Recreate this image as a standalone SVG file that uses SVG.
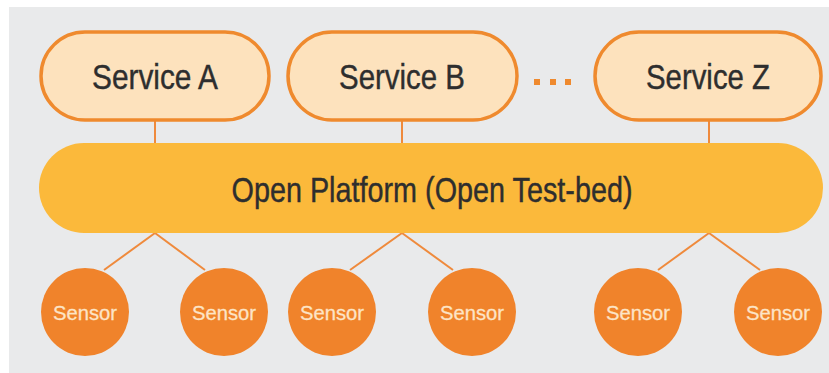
<svg xmlns="http://www.w3.org/2000/svg" width="829" height="373" viewBox="0 0 829 373">
<style>
.svc{fill:#fde2bd;stroke:#ef8a2e;stroke-width:3.5}
.svct{font-family:"Liberation Sans Narrow","Liberation Sans",Arial,sans-serif;font-size:35px;fill:#2e2e2e;stroke:#2e2e2e;stroke-width:0.4;text-anchor:middle}
.plat{fill:#fbb93b}
.sen{fill:#f0832b}
.sent{font-family:"Liberation Sans Narrow","Liberation Sans",Arial,sans-serif;font-size:21px;fill:#fde4c6;stroke:#fde4c6;stroke-width:0.3;text-anchor:middle}
.con line{stroke:#ef8a3c;stroke-width:2}
</style>
<rect x="9" y="7" width="820" height="366" fill="#e9eaeb"/>
<g class="con">
<line x1="155" y1="121" x2="155" y2="145"/>
<line x1="402" y1="121" x2="402" y2="145"/>
<line x1="709" y1="121" x2="709" y2="145"/>
<line x1="155" y1="233" x2="104" y2="270"/>
<line x1="155" y1="233" x2="205" y2="270"/>
<line x1="402" y1="233" x2="350" y2="270"/>
<line x1="402" y1="233" x2="453" y2="270"/>
<line x1="709" y1="233" x2="658" y2="270"/>
<line x1="709" y1="233" x2="760" y2="270"/>
</g>
<g id="serviceA"><rect class="svc" x="41" y="32" width="228" height="88" rx="44"/><text class="svct" x="155" y="89" textLength="126" lengthAdjust="spacingAndGlyphs">Service A</text></g>
<g id="serviceB"><rect class="svc" x="288" y="32" width="229" height="88" rx="44"/><text class="svct" x="402" y="89" textLength="126" lengthAdjust="spacingAndGlyphs">Service B</text></g>
<g id="dots" fill="#ef8a2e"><rect x="534" y="79" width="6" height="6"/><rect x="550" y="79" width="6" height="6"/><rect x="565" y="79" width="6" height="6"/></g>
<g id="serviceZ"><rect class="svc" x="595" y="32" width="226" height="88" rx="44"/><text class="svct" x="708" y="89" textLength="124" lengthAdjust="spacingAndGlyphs">Service Z</text></g>
<g id="platform"><rect class="plat" x="39" y="143" width="784" height="90" rx="45"/><text class="svct" x="432" y="202" textLength="401" lengthAdjust="spacingAndGlyphs">Open Platform (Open Test-bed)</text></g>
<g id="sensor1"><circle class="sen" cx="85" cy="312" r="44"/><text class="sent" x="85" y="320" textLength="64" lengthAdjust="spacingAndGlyphs">Sensor</text></g>
<g id="sensor2"><circle class="sen" cx="224" cy="312" r="44"/><text class="sent" x="224" y="320" textLength="64" lengthAdjust="spacingAndGlyphs">Sensor</text></g>
<g id="sensor3"><circle class="sen" cx="332" cy="312" r="44"/><text class="sent" x="332" y="320" textLength="64" lengthAdjust="spacingAndGlyphs">Sensor</text></g>
<g id="sensor4"><circle class="sen" cx="472" cy="312" r="44"/><text class="sent" x="472" y="320" textLength="64" lengthAdjust="spacingAndGlyphs">Sensor</text></g>
<g id="sensor5"><circle class="sen" cx="638" cy="312" r="44"/><text class="sent" x="638" y="320" textLength="64" lengthAdjust="spacingAndGlyphs">Sensor</text></g>
<g id="sensor6"><circle class="sen" cx="778" cy="312" r="44"/><text class="sent" x="778" y="320" textLength="64" lengthAdjust="spacingAndGlyphs">Sensor</text></g>
</svg>
